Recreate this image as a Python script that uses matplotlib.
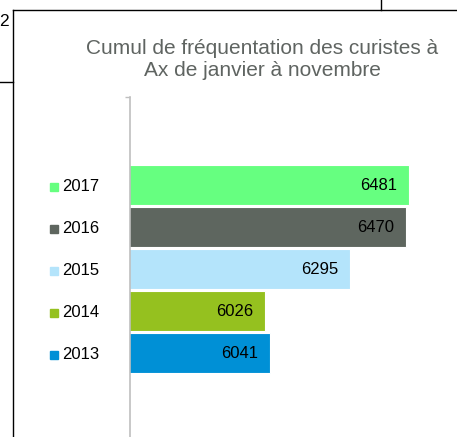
import matplotlib
matplotlib.use("Agg")
import matplotlib.pyplot as plt
from matplotlib.lines import Line2D
from matplotlib.transforms import blended_transform_factory

plt.rcParams['font.family'] = ['Liberation Sans', 'DejaVu Sans']

# data
annees = ["2013", "2014", "2015", "2016", "2017"]
curistes = [6041, 6026, 6295, 6470, 6481]
couleurs = ["#0090d6", "#95c11f", "#b4e4fb", "#5e665f", "#66ff80"]
titre = "Cumul de fréquentation des curistes à\nAx de janvier à novembre"

W, H = 457, 437
fig = plt.figure(figsize=(W / 100, H / 100), dpi=100)

# axes placed in pixels: x 130..447, y 97..441 (bottom runs off the picture)
ax = fig.add_axes([130 / W, (H - 441) / H, 317 / W, 344 / H])

pos = list(range(len(annees)))
ax.barh(pos, curistes, height=0.93, left=0, color=couleurs,
        edgecolor="white", linewidth=0.8, zorder=2)
ax.set_xlim(5600, 6600)
ax.set_ylim(2 - 344 / 84, 2 + 344 / 84)

for p, v in zip(pos, curistes):
    ax.text(v - 12 * 1000 / 317, p, str(v), ha="right", va="center",
            fontsize=12, color="black", zorder=3)

# axis styling
for s in ["top", "right", "bottom"]:
    ax.spines[s].set_visible(False)
ax.spines["left"].set_color("#bfbfbf")
ax.spines["left"].set_linewidth(1.2)
ax.set_xticks([])
ax.set_yticks([ax.get_ylim()[1]])
ax.set_yticklabels([])
ax.tick_params(axis="y", direction="out", length=3.6, width=1, color="#bfbfbf")

# legend on the left, one row per bar
tr = blended_transform_factory(ax.transAxes, ax.transData)
for p, a, c in zip(pos, annees, couleurs):
    ax.plot([-76 / 317], [p - 0.04], marker="s", markersize=5.2, color=c,
            linestyle="none", transform=tr, clip_on=False)
    ax.text(-68 / 317, p - 0.04, a, ha="left", va="center", fontsize=12,
            color="black", transform=tr, clip_on=False)

fig.text(262 / W, 1 - 60 / H, titre, ha="center", va="center",
         fontsize=15, color="#5f6461", linespacing=1.2)

# bits of the surrounding page frame
def ligne(x0, y0, x1, y1):
    fig.add_artist(Line2D([x0 / W, x1 / W], [1 - y0 / H, 1 - y1 / H],
                          color="black", linewidth=1.0))

ligne(12.5, 9.5, W, 9.5)
ligne(380.5, 0, 380.5, 9.5)
ligne(12.5, 9.5, 12.5, H)
ligne(0, 81.5, 12.5, 81.5)
fig.text(-1 / W, 1 - 21 / H, "2", ha="left", va="center", fontsize=12.5,
         color="black")

fig.savefig("out.png", dpi=100)
